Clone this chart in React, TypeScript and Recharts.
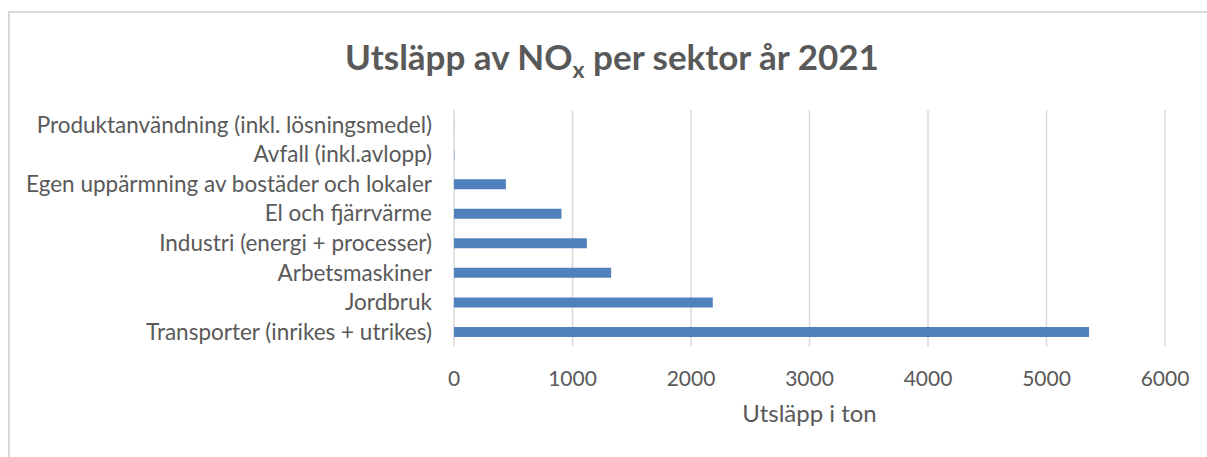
import React from "react";
import { BarChart, Bar, XAxis, YAxis, CartesianGrid } from "recharts";

const categories = [
  "Produktanvändning (inkl. lösningsmedel)",
  "Avfall (inkl.avlopp)",
  "Egen uppärmning av bostäder och lokaler",
  "El och fjärrvärme",
  "Industri (energi + processer)",
  "Arbetsmaskiner",
  "Jordbruk",
  "Transporter (inrikes + utrikes)",
];
const values = [1, 3, 438, 907, 1121, 1326, 2184, 5359];
const xTicks = [0, 1000, 2000, 3000, 4000, 5000, 6000];

const data = categories.map((c, i) => ({ name: c, value: values[i] }));

const FONT = "Lato, 'Open Sans', sans-serif";
const TEXT = "#595959";

export default function App() {
  return (
    <div style={{ position: "absolute", left: 0, top: 0, width: 1207, height: 457, background: "#fff", overflow: "hidden", fontFamily: FONT }}>
      <div style={{ position: "absolute", left: 8, top: 11, width: 1199, height: 446, borderLeft: "2px solid #d9d9d9", borderTop: "2px solid #d9d9d9", boxSizing: "border-box" }} />
      <div style={{ position: "absolute", left: 0, top: 35, width: 1224, textAlign: "center", fontSize: 35, lineHeight: "42px", fontWeight: 700, color: TEXT, whiteSpace: "nowrap" }}>
        Utsläpp av NO<sub style={{ fontSize: 23, lineHeight: 0 }}>x</sub> per sektor år 2021
      </div>
      <div style={{ position: "absolute", left: 0, top: 0 }}>
        <BarChart
          width={1207}
          height={457}
          data={data}
          layout="vertical"
          margin={{ top: 110, right: 42, bottom: 0, left: 0 }}
          barCategoryGap="33%"
        >
          <CartesianGrid horizontal={false} vertical={true} stroke="#d9d9d9" strokeWidth={1.5} />
          <XAxis
            type="number"
            domain={[0, 6000]}
            ticks={xTicks}
            axisLine={false}
            tickLine={false}
            tickSize={6}
            tickMargin={19}
            height={110.5}
            tick={{ fill: TEXT, fontSize: 21, fontFamily: FONT }}
            interval={0}
          />
          <YAxis
            type="category"
            dataKey="name"
            width={454}
            axisLine={false}
            tickLine={false}
            tickSize={6}
            tickMargin={16}
            interval={0}
            tick={{ fill: TEXT, fontSize: 22.5, fontFamily: FONT }}
          />
          <Bar dataKey="value" fill="#4f81bd" barSize={10} isAnimationActive={false} />
        </BarChart>
      </div>
      <div style={{ position: "absolute", left: 454, width: 711, top: 398, textAlign: "center", fontSize: 24, lineHeight: "29px", color: TEXT }}>
        Utsläpp i ton
      </div>
    </div>
  );
}
